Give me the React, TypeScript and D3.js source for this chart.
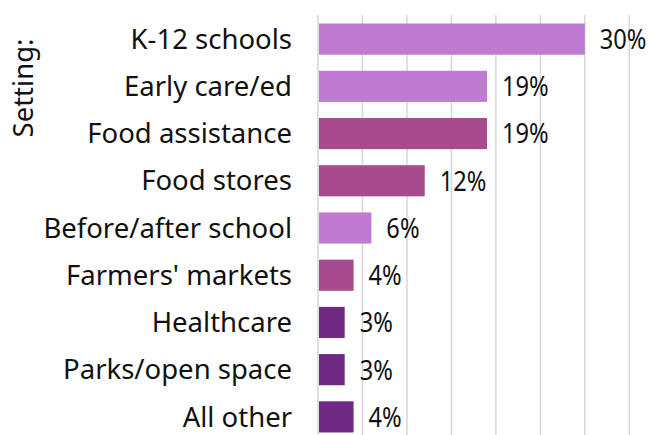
import React from "react";
import * as d3 from "d3";

const categories = [
  "K-12 schools",
  "Early care/ed",
  "Food assistance",
  "Food stores",
  "Before/after school",
  "Farmers' markets",
  "Healthcare",
  "Parks/open space",
  "All other",
];
const values = [30, 19, 19, 12, 6, 4, 3, 3, 4];
const groups = ["light", "light", "mid", "mid", "light", "mid", "dark", "dark", "dark"];
const gridTicks = [0, 5, 10, 15, 20, 25, 30, 35];
const axisTitle = "Setting:";

const colorMap: Record<string, string> = {
  light: "#BF7BCF",
  mid: "#A64B8E",
  dark: "#6E2A83",
};

export default function App() {
  const W = 652;
  const H = 435;
  const x = d3.scaleLinear().domain([0, 35]).range([318, 629.3]);
  const y = d3
    .scaleBand<string>()
    .domain(categories)
    .range([15.5, 440.5])
    .paddingInner(0.34)
    .paddingOuter(0.17);
  const font = "'Noto Sans', sans-serif";

  return (
    <svg
      width={W}
      height={H}
      style={{ position: "absolute", left: 0, top: 0, background: "#fff" }}
    >
      {gridTicks.map((t) => (
        <line
          key={t}
          x1={x(t)}
          x2={x(t)}
          y1={15}
          y2={H}
          stroke="#d9d9d9"
          strokeWidth={1.6}
        />
      ))}
      {categories.map((c, i) => {
        const yy = y(c)!;
        const bw = y.bandwidth();
        return (
          <g key={c}>
            <rect
              x={x(0) + 1}
              y={yy}
              width={x(values[i]) - x(0) - 1}
              height={bw}
              fill={colorMap[groups[i]]}
            />
            <text
              x={x(0) - 26}
              y={yy + bw / 2}
              dy="0.35em"
              textAnchor="end"
              fontFamily={font}
              fontSize={27.5}
              fill="#111"
            >
              {c}
            </text>
            <text
              transform={`translate(${x(values[i]) + 15},${yy + bw / 2}) scale(0.86,1)`}
              dy="0.36em"
              textAnchor="start"
              fontFamily={font}
              fontSize={27.5}
              fill="#111"
            >
              {values[i]}%
            </text>
          </g>
        );
      })}
      <text
        transform={`translate(33,88) rotate(-90)`}
        textAnchor="middle"
        fontFamily={font}
        fontSize={27.5}
        fill="#111"
      >
        {axisTitle}
      </text>
    </svg>
  );
}
